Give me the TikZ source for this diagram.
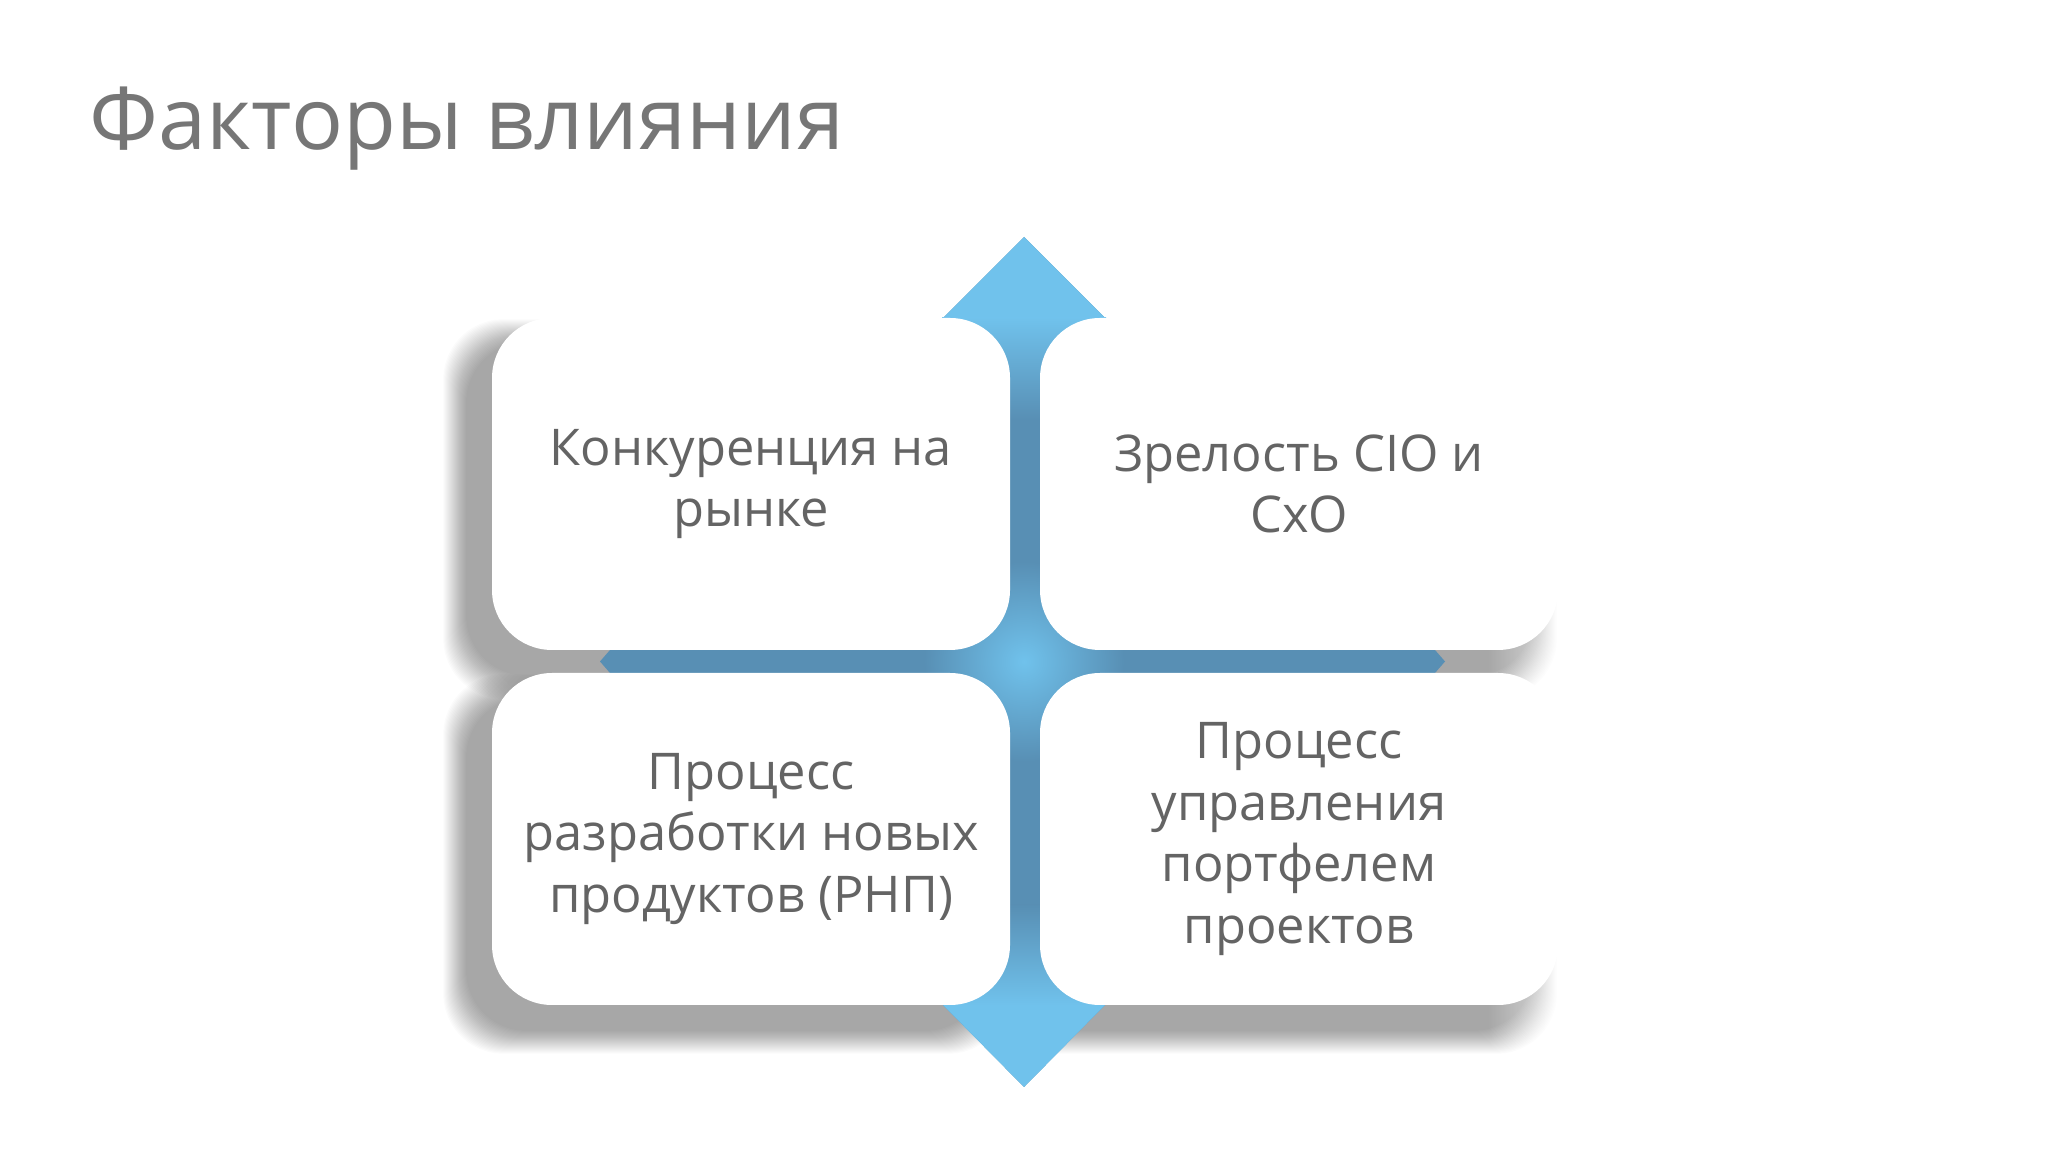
\documentclass[tikz,border=0pt]{standalone}
\usepackage{fontspec}
\setmainfont{Open Sans}
\usepackage{tikz}
\usetikzlibrary{fadings}
\pgfdeclarelayer{background}
\pgfsetlayers{background,main}
\definecolor{bluedark}{RGB}{88,143,180}
\definecolor{bluelight}{RGB}{112,194,236}
\definecolor{textgray}{RGB}{100,100,100}
\definecolor{titlegray}{RGB}{118,118,118}
\tikzstyle{factor} = [rectangle, fill=white, rounded corners=6mm, minimum width=51.8mm, minimum height=33.2mm, align=center, text=textgray, font=\fontsize{14.4}{17.5}\selectfont]
\tikzstyle{shadowstep} = [black, opacity=0.017, rounded corners=6mm]

\begin{document}
\begin{tikzpicture}[x=0.1mm, y=-0.1mm]
\useasboundingbox (0,0) rectangle (2048,1152);
\node [anchor=base west, inner sep=0, text=titlegray, font=\fontsize{24.6}{26}\selectfont] (title) at (89,150) {Факторы влияния};

\node [factor] (market) at (751,484) {Конкуренция на\\рынке};
\node [factor] (maturity) at (1299,484) {Зрелость CIO и\\CxO};
\node [factor] (npd) at (751,839) {Процесс\\разработки новых\\продуктов (РНП)};
\node [factor] (portfolio) at (1299,839) {Процесс\\управления\\портфелем\\проектов};

% right side fades out
\fill [white, path fading=west] (1488,280) rectangle (1600,1070);

\begin{pgfonlayer}{background}
\fill [white] (0,0) rectangle (2048,1152);
% soft shadows, down and to the left
\foreach \n in {market, maturity, npd, portfolio}
  \foreach \k [evaluate=\k as \e using 36-\k*3] in {0,...,23}
    \fill [shadowstep] ([shift={(-25-\e,25+\e)}]\n.south west) rectangle ([shift={(-25+\e,25-\e)}]\n.north east);
% the cross of arrows
\fill [bluedark] (1024,237) -- (1106,319) -- (1106,1004) -- (1024,1087) -- (942,1004) -- (942,319) -- cycle;
\fill [bluedark] (600,661.5) -- (610,650) -- (1435,650) -- (1445,661.5) -- (1435,673) -- (610,673) -- cycle;
\fill [bluelight] (1024,237) -- (1106,319) -- (942,319) -- cycle;
\fill [bluelight] (1024,1087) -- (1106,1004) -- (942,1004) -- cycle;
\shade [top color=bluelight, bottom color=bluedark] (942,318) rectangle (1106,420);
\shade [top color=bluedark, bottom color=bluelight] (942,905) rectangle (1106,1005);
\shade [inner color=bluelight, outer color=bluedark] (1024,661.5) circle (10mm);
\end{pgfonlayer}
\end{tikzpicture}
\end{document}
